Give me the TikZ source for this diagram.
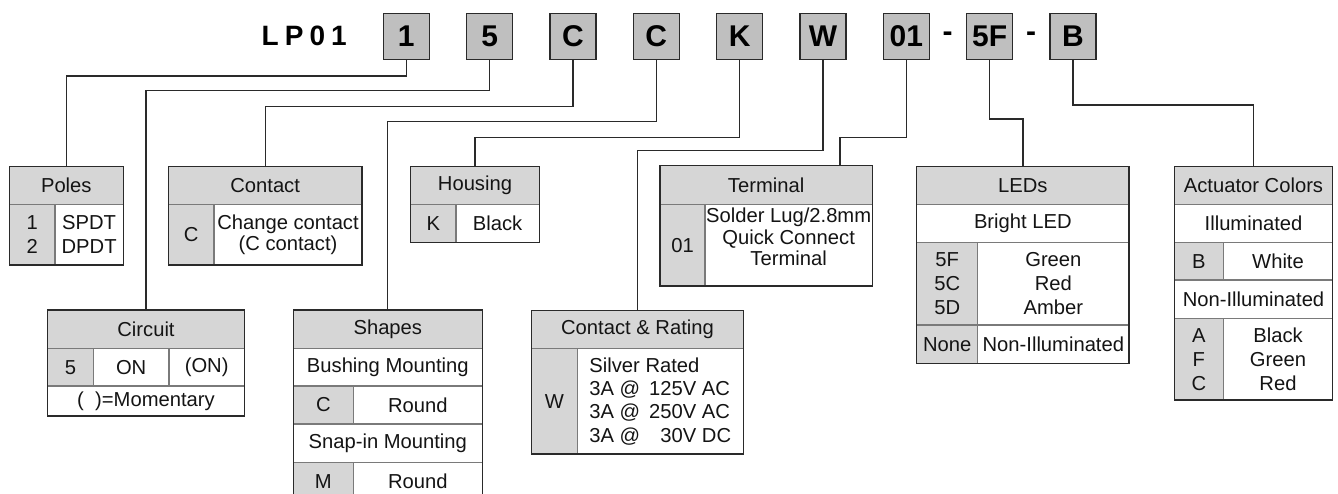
\documentclass[tikz,border=0pt]{standalone}
\usepackage{fontspec}
\setmainfont{Liberation Sans}
\definecolor{hdr}{HTML}{D6D6D6}
\definecolor{key}{HTML}{D6D6D6}
\definecolor{codefill}{HTML}{BFBFBF}
\definecolor{divc}{HTML}{7A7A7A}
\definecolor{edge}{HTML}{2A2A2A}
\definecolor{txt}{HTML}{141414}
\tikzset{
 cellbox/.style={anchor=north west, draw=divc, line width=1.2pt, inner sep=0pt, outer sep=0pt, align=center, font=\fontsize{20.2}{21.5}\selectfont, text=txt},
 lp/.style={font=\fontsize{20.2}{24}\selectfont},
 lr/.style={font=\fontsize{20.2}{23.3}\selectfont},
 outerbox/.style={draw=edge, line width=1.4pt},
 codebox/.style={draw=edge, line width=1.4pt, fill=codefill, minimum size=46pt, inner sep=0pt, text=black, font=\fontsize{30}{32}\selectfont\bfseries},
 dashtxt/.style={inner sep=0pt, text=black, font=\fontsize{30}{32}\selectfont\bfseries},
 wire/.style={draw=edge, line width=1.3pt},
}
\newcommand\cellat[8]{\node[cellbox, fill=#6, minimum width={#4pt-#2pt}, minimum height={#5pt-#3pt}, #7] (#1) at (#2,#3) {#8};}
\begin{document}
\begin{tikzpicture}[x=1pt, y=-1pt]
\clip (0,0) rectangle (1338,493);
\fill[white] (0,0) rectangle (1338,493);
% title and code boxes
\node[inner sep=0pt, text=black, font=\fontsize{28}{30}\selectfont\bfseries] (lp) at (304.2,36.3) {L\kern6pt P\kern6pt 0\kern6pt 1};
\node[codebox] (c1) at (406.3,36.3) {1};
\node[codebox] (c2) at (489.6,36.3) {5};
\node[codebox] (c3) at (573,36.3) {C};
\node[codebox] (c4) at (656.3,36.3) {C};
\node[codebox] (c5) at (739.6,36.3) {K};
\node[codebox] (c6) at (823,36.3) {W};
\node[codebox] (c7) at (906.3,36.3) {01};
\node[dashtxt] (d1) at (947.6,37) {-};
\node[codebox] (c8) at (989.6,36.3) {5F};
\node[dashtxt] (d2) at (1031,37) {-};
\node[codebox] (c9) at (1073,36.3) {B};
% Poles
\cellat{poleshd}{9.3}{166.7}{123.3}{204.3}{hdr}{}{Poles}
\cellat{polesk}{9.3}{204.3}{55}{265}{key}{lp}{1\\2}
\cellat{polesv}{55}{204.3}{123.3}{265}{white}{lp}{SPDT\\DPDT}
\draw[outerbox] (poleshd.north west) rectangle (polesv.south east);
% Contact
\cellat{conthd}{168.3}{166.7}{362}{204.3}{hdr}{}{Contact}
\cellat{contk}{168.3}{204.3}{214}{265}{key}{}{C}
\cellat{contv}{214}{204.3}{362}{265}{white}{}{Change contact\\(C contact)}
\draw[outerbox] (conthd.north west) rectangle (contv.south east);
% Circuit
\cellat{circhd}{47.7}{310}{244.3}{348.3}{hdr}{}{Circuit}
\cellat{circk}{47.7}{348.3}{93.3}{386}{key}{}{5}
\cellat{circa}{93.3}{348.3}{169}{386}{white}{}{ON}
\cellat{circb}{169}{348.3}{244.3}{386}{white}{}{(ON)}
\cellat{circn}{47.7}{386}{244.3}{416}{white}{}{(\ \ )=Momentary}
\draw[outerbox] (circhd.north west) rectangle (circn.south east);
% Shapes
\cellat{shphd}{293.3}{310}{482.3}{348.3}{hdr}{}{Shapes}
\cellat{shpa}{293.3}{348.3}{482.3}{386}{white}{}{Bushing Mounting}
\cellat{shpck}{293.3}{386}{353.3}{424}{key}{}{C}
\cellat{shpcv}{353.3}{386}{482.3}{424}{white}{}{Round}
\cellat{shpb}{293.3}{424}{482.3}{462.3}{white}{}{Snap-in Mounting}
\cellat{shpmk}{293.3}{462.3}{353.3}{500}{key}{}{M}
\cellat{shpmv}{353.3}{462.3}{482.3}{500}{white}{}{Round}
\draw[outerbox] (shphd.north west) rectangle (shpmv.south east);
% Housing
\cellat{houshd}{410.7}{166.7}{539.3}{204.3}{hdr}{}{Housing}
\cellat{housk}{410.7}{204.3}{456}{242.3}{key}{}{K}
\cellat{housv}{456}{204.3}{539.3}{242.3}{white}{}{Black}
\draw[outerbox] (houshd.north west) rectangle (housv.south east);
% Contact & Rating
\cellat{ratehd}{531.7}{310.7}{743.3}{348.3}{hdr}{}{Contact \& Rating}
\cellat{ratek}{531.7}{348.3}{577.3}{454}{key}{}{W}
\cellat{ratev}{577.3}{348.3}{743.3}{454}{white}{lr, align=left}{Silver Rated\\3A @ \,125V AC\\3A @ \,250V AC\\3A @ \,\phantom{1}30V DC}
\draw[outerbox] (ratehd.north west) rectangle (ratev.south east);
% Terminal
\cellat{termhd}{660}{165.7}{872.3}{204.3}{hdr}{}{Terminal}
\cellat{termk}{660}{204.3}{705}{286}{key}{}{01}
\cellat{termv}{705}{204.3}{872.3}{286}{white}{text depth=16pt}{Solder Lug/2.8mm\\Quick Connect\\Terminal}
\draw[outerbox] (termhd.north west) rectangle (termv.south east);
\coordinate (termin) at (840,165.7);
% LEDs
\cellat{ledhd}{916.7}{166.7}{1129}{204.3}{hdr}{}{LEDs}
\cellat{leda}{916.7}{204.3}{1129}{242.3}{white}{}{Bright LED}
\cellat{ledk}{916.7}{242.3}{977.7}{325}{key}{lp}{5F\\5C\\5D}
\cellat{ledv}{977.7}{242.3}{1129}{325}{white}{lp}{Green\\Red\\Amber}
\cellat{ledn}{916.7}{325}{977.7}{363.3}{key}{}{None}
\cellat{lednv}{977.7}{325}{1129}{363.3}{white}{}{Non-Illuminated}
\draw[outerbox] (ledhd.north west) rectangle (lednv.south east);
% Actuator Colors
\cellat{acthd}{1174.3}{166.7}{1332.7}{204.3}{hdr}{}{Actuator Colors}
\cellat{acta}{1174.3}{204.3}{1332.7}{242.7}{white}{}{Illuminated}
\cellat{actbk}{1174.3}{242.7}{1223.3}{280}{key}{}{B}
\cellat{actbv}{1223.3}{242.7}{1332.7}{280}{white}{}{White}
\cellat{actn}{1174.3}{280}{1332.7}{318.3}{white}{}{Non-Illuminated}
\cellat{actk}{1174.3}{318.3}{1223.3}{400}{key}{lp}{A\\F\\C}
\cellat{actv}{1223.3}{318.3}{1332.7}{400}{white}{lp}{Black\\Green\\Red}
\draw[outerbox] (acthd.north west) rectangle (actv.south east);
% connectors
\draw[wire] (c1.south) -- ++(0,16) -| (poleshd.north);
\draw[wire] (c2.south) -- ++(0,30.7) -| (circhd.north);
\draw[wire] (c3.south) -- ++(0,46.7) -| (conthd.north);
\draw[wire] (c4.south) -- ++(0,61.4) -| (shphd.north);
\draw[wire] (c5.south) -- ++(0,77.7) -| (houshd.north);
\draw[wire] (c6.south) -- ++(0,90.7) -| (ratehd.north);
\draw[wire] (c7.south) -- ++(0,77.7) -| (termin);
\draw[wire] (c8.south) -- ++(0,59) -| (ledhd.north);
\draw[wire] (c9.south) -- ++(0,45) -| (acthd.north);
\end{tikzpicture}
\end{document}
